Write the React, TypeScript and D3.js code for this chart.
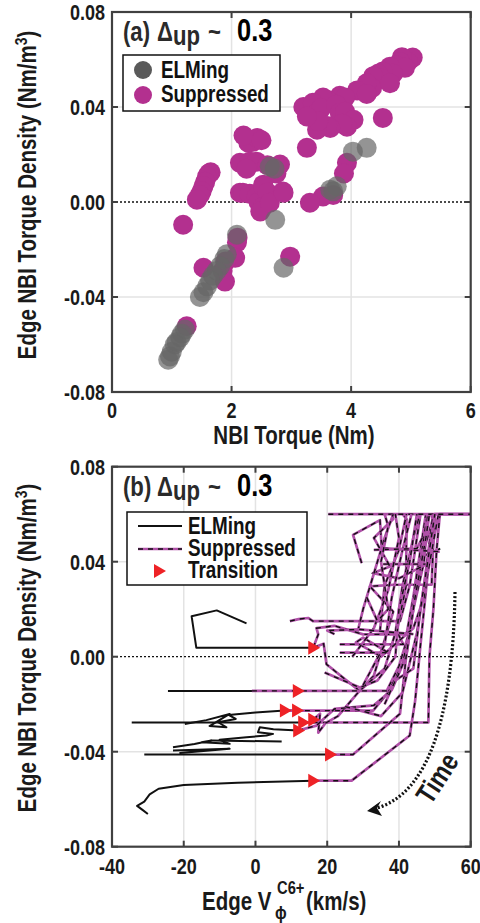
import React from 'react';
import * as d3 from 'd3';

const W = 480;
const H = 923;
const FONT = "'Liberation Sans', Arial, sans-serif";
const SX = 0.82; // condensed look

// ---------- Panel (a) data ----------
const aXTicks = [0, 2, 4, 6];
const aYTicks = [-0.08, -0.04, 0, 0.04, 0.08];
const aXGrid = [2, 4];
const aYGrid = [-0.04, 0.04];

const aSuppressed: [number, number][] = [
  [5.03, 0.0608], [4.95, 0.059], [4.85, 0.061], [4.82, 0.059], [4.75, 0.0575], [4.9, 0.0565],
  [4.65, 0.057], [4.7, 0.054], [4.53, 0.055], [4.45, 0.054], [4.5, 0.052], [4.37, 0.053],
  [4.35, 0.048], [4.26, 0.05], [4.65, 0.05], [4.1, 0.047], [4.26, 0.0455], [4.53, 0.0354],
  [3.81, 0.0447], [3.9, 0.044], [3.6, 0.043], [3.53, 0.044], [3.2, 0.04], [3.36, 0.0418],
  [3.43, 0.0375], [3.5, 0.0395], [3.75, 0.041], [3.81, 0.0375], [3.9, 0.038], [4.04, 0.0346],
  [3.93, 0.0317], [3.85, 0.033], [3.65, 0.0312], [3.6, 0.032], [3.43, 0.0304], [3.45, 0.034],
  [3.26, 0.036], [3.26, 0.0228],
  [2.36, 0.0254], [2.28, 0.025], [2.43, 0.027], [2.2, 0.028], [2.5, 0.026],
  [2.14, 0.0165], [2.3, 0.017], [2.42, 0.017], [2.25, 0.014], [2.6, 0.0155], [2.81, 0.0158], [2.75, 0.012],
  [2.14, 0.0039], [2.19, 0.0039], [2.3, 0.0035], [2.42, 0.0023], [2.45, 0.0], [2.53, 0.0073],
  [2.53, 0.0066], [2.6, 0.004], [2.53, -0.002], [2.48, -0.004], [2.64, -0.0003], [2.86, 0.0044],
  [2.87, 0.0039],
  [1.65, 0.0125], [1.62, 0.012], [1.59, 0.0107], [1.56, 0.0085], [1.53, 0.0066], [1.5, 0.0045],
  [1.47, 0.003], [1.42, 0.001],
  [3.93, 0.0165], [3.88, 0.012], [3.7, 0.003], [3.53, 0.0023], [3.31, -0.0003],
  [1.19, -0.0096],
  [2.1, -0.015], [2.09, -0.017], [2.06, -0.0235], [1.9, -0.025], [1.85, -0.029],
  [1.53, -0.0277], [1.89, -0.0335], [2.98, -0.023], [1.25, -0.0523],
];

const aElming: [number, number][] = [
  [4.03, 0.0212], [4.26, 0.0228], [2.64, 0.0149], [2.72, 0.014], [3.76, 0.0066], [3.65, 0.0052],
  [3.7, 0.0045], [2.73, -0.0075], [2.09, -0.0138], [1.92, -0.022], [1.88, -0.024], [1.81, -0.027],
  [1.75, -0.029], [1.69, -0.031], [1.64, -0.033], [1.59, -0.0355], [1.53, -0.038], [1.47, -0.04],
  [2.87, -0.0277], [1.22, -0.0537], [1.17, -0.0555], [1.14, -0.057], [1.08, -0.059], [1.05, -0.06],
  [1.0, -0.063], [0.97, -0.065], [0.94, -0.0664],
];

// ---------- Panel (b) data ----------
const bXTicks = [-40, -20, 0, 20, 40, 60];
const bYTicks = [-0.08, -0.04, 0, 0.04, 0.08];
const bXGrid = [-20, 0, 20, 40];
const bYGrid = [-0.04, 0.04];

const bElming: [number, number][][] = [
  [[-2.5, 0.014], [-10.8, 0.0195], [-17.8, 0.017], [-16.5, 0.0038], [16.1, 0.0038]],
  [[-24.4, -0.0144], [11.8, -0.0144]],
  [[-34.5, -0.0277], [13.3, -0.0277]],
  [[-19.7, -0.0283], [-13.7, -0.0267], [-7.2, -0.0241], [-12.8, -0.0292], [-8.1, -0.0297], [-10.4, -0.0276],
   [-5.5, -0.0262], [-7.5, -0.0245], [0, -0.0235], [8.2, -0.0227], [11.6, -0.0227]],
  [[-23, -0.0381], [-17, -0.0368], [-12.3, -0.0353], [-15, -0.036], [-7.2, -0.0367], [-10, -0.035],
   [-2.5, -0.0339], [3.1, -0.0332], [4.9, -0.0325], [0.7, -0.0318], [1.2, -0.0297], [5, -0.0305], [11.9, -0.0311]],
  [[-12.3, -0.0353], [7.3, -0.0357]],
  [[-23, -0.0395], [-7.2, -0.0388], [-21, -0.0405], [-12, -0.0392]],
  [[-31, -0.0412], [20.8, -0.0412]],
  [[-30, -0.0662], [-31.5, -0.0645], [-33, -0.0628], [-31, -0.061], [-29.5, -0.058], [-27, -0.0556],
   [-20, -0.054], [-5, -0.0531], [16.1, -0.0522]],
  [[47, 0.0425], [51.5, 0.0455]],
];

const bSuppressed: [number, number][][] = [
  [[16.1, 0.0038], [17.5, 0.0094], [17, 0.012], [22, 0.013], [30, 0.0094], [42.1, 0.0094], [44, 0.025], [46, 0.045], [47.5, 0.06]],
  [[16.1, 0.0038], [19, 0.0055], [19.8, -0.0032], [29, -0.0144], [33, -0.008], [38.4, 0.019], [31.9, 0.0296], [38.4, 0.0303], [49.1, 0.0303], [49.5, 0.045], [50, 0.06], [60, 0.06]],
  [[9.6, 0.015], [12, 0.0158], [14.7, 0.0163], [16, 0.015], [40.3, 0.015], [43, 0.03], [45.8, 0.058], [46, 0.06]],
  [[23.5, 0.0052], [41.2, 0.0052], [39.4, 0.0107], [42, 0.03], [42.1, 0.058], [41, 0.06]],
  [[-1, -0.0144], [36.6, -0.0144], [40, -0.004], [43, 0.011], [45, 0.03], [47.7, 0.058], [48, 0.06]],
  [[8.2, -0.0227], [32.8, -0.0227], [37, -0.015], [41, -0.003], [43, 0.0107], [45, 0.035], [49.5, 0.058], [49, 0.06]],
  [[13.3, -0.0277], [48.2, -0.0277], [48.5, 0.0], [49.6, 0.02], [50.5, 0.045], [51.4, 0.06], [60, 0.06]],
  [[16.1, -0.0265], [18, -0.024], [17.5, -0.032], [19.5, -0.028], [23, -0.025], [29, -0.0144], [36, -0.005], [39, 0.01], [41, 0.03], [44, 0.05], [45.8, 0.06]],
  [[11.9, -0.0311], [17, -0.029], [22, -0.022], [33, -0.0205], [38, -0.014], [42, 0.0], [44, 0.02], [47, 0.04], [48, 0.06]],
  [[20.8, -0.0412], [27.2, -0.0412], [40.3, -0.024], [42, 0.0], [44.5, 0.025], [47.5, 0.05], [48.5, 0.06]],
  [[16.1, -0.0522], [26.8, -0.0522], [43, -0.0332], [44.5, -0.0187], [46, 0.005], [48, 0.035], [51, 0.06]],
  [[20.3, 0.06], [60, 0.06]],
  [[29.6, 0.0394], [27.2, 0.0513], [34.7, 0.0575], [35.2, 0.0457], [51.4, 0.0442]],
  [[35.6, 0.039], [47.7, 0.039], [40, 0.033], [32.8, 0.0352], [37.5, 0.038], [33, 0.05], [38.4, 0.058], [38, 0.06]],
  [[28.5, 0.0107], [30, 0.02], [33, 0.035], [36, 0.05], [38.4, 0.06]],
  [[34.7, 0.0107], [36, 0.03], [40, 0.045], [42.1, 0.06]],
  [[19.3, -0.0067], [29.1, -0.013], [34, -0.01], [39, 0.0], [40, 0.02], [43, 0.04], [45, 0.06]],
  [[23.5, 0.0017], [37, 0.0017], [30, 0.008], [28, 0.006], [35, 0.0], [44, 0.012], [47, 0.025], [48, 0.04], [50, 0.06]],
  [[25, -0.021], [35, -0.025], [41, -0.015], [45, 0.01], [47, 0.03], [49.5, 0.06]],
  [[30, -0.012], [36, 0.005], [38, 0.025], [41, 0.045], [43.5, 0.06]],
  [[27, 0.0], [33, 0.012], [37, 0.028], [40, 0.05], [39, 0.06]],
  [[22, 0.0095], [20, 0.011], [29, 0.0115], [44, 0.0095]],
  [[33, 0.045], [45, 0.0455], [46.5, 0.05]],
  [[36, -0.02], [39, -0.01], [44, -0.005], [46, 0.02], [48.5, 0.045], [50, 0.06]],
  [[31, 0.025], [34, 0.015], [37, 0.02], [35, 0.04], [37, 0.055], [36, 0.06]],
];

const bTransitions: [number, number][] = [
  [16.1, 0.0038], [11.8, -0.0144], [8.2, -0.0227], [11.6, -0.0227], [13.3, -0.0277],
  [16.1, -0.0265], [11.9, -0.0311], [20.8, -0.0412], [16.1, -0.0522],
];

// ---------- styles ----------
const MAGENTA = '#B3308F';
const GRAY = '#666666';
const SUPP_LINE = '#B050A8';
const RED = '#EE2226';
const AXIS = '#404040';
const GRID = '#e3e3e3';

const fmtY = (v: number) => v.toFixed(2);

// condensed bold text
function CT({ x, y, size, anchor = 'start', rot = 0, fill = '#1a1a1a', children, baseline }: any) {
  return (
    <text
      transform={`translate(${x},${y}) rotate(${rot}) scale(${SX},1)`}
      textAnchor={anchor}
      dominantBaseline={baseline}
      fontFamily={FONT}
      fontWeight="bold"
      fontSize={size}
      fill={fill}
    >
      {children}
    </text>
  );
}

function Frame({ x, y, xTicks, yTicks, xLabelY }: any) {
  const [x0, x1] = x.range();
  const [y0, y1] = y.range();
  const tl = 6;
  return (
    <g>
      {xTicks.map((t: number) => (
        <g key={'xt' + t}>
          <line x1={x(t)} x2={x(t)} y1={y0} y2={y0 - tl} stroke={AXIS} strokeWidth={2} />
          <line x1={x(t)} x2={x(t)} y1={y1} y2={y1 + tl} stroke={AXIS} strokeWidth={2} />
          <CT x={x(t)} y={xLabelY} size={22} anchor="middle">{String(t)}</CT>
        </g>
      ))}
      {yTicks.map((t: number) => (
        <g key={'yt' + t}>
          <line x1={x0} x2={x0 + tl} y1={y(t)} y2={y(t)} stroke={AXIS} strokeWidth={2} />
          <line x1={x1} x2={x1 - tl} y1={y(t)} y2={y(t)} stroke={AXIS} strokeWidth={2} />
          <CT x={x0 - 7} y={y(t) + 8} size={22} anchor="end">{fmtY(t)}</CT>
        </g>
      ))}
      <rect x={x0} y={y1} width={x1 - x0} height={y0 - y1} fill="none" stroke={AXIS} strokeWidth={2.2} />
    </g>
  );
}

function Grid({ x, y, xGrid, yGrid }: any) {
  const [x0, x1] = x.range();
  const [y0, y1] = y.range();
  return (
    <g>
      {xGrid.map((t: number) => (
        <line key={'gx' + t} x1={x(t)} x2={x(t)} y1={y0} y2={y1} stroke={GRID} strokeWidth={1.5} />
      ))}
      {yGrid.map((t: number) => (
        <line key={'gy' + t} x1={x0} x2={x1} y1={y(t)} y2={y(t)} stroke={GRID} strokeWidth={1.5} />
      ))}
      <line x1={x0} x2={x1} y1={y(0)} y2={y(0)} stroke="#111" strokeWidth={1.3} strokeDasharray="2,2" />
    </g>
  );
}

function Title({ letter, y }: { letter: string; y: number }) {
  return (
    <g>
      <CT x={123} y={y} size={27} fill="#2a2a2a">{`(${letter})`}</CT>
      <CT x={157} y={y} size={27} fill="#2a2a2a">Δ</CT>
      <CT x={173} y={y + 4} size={27} fill="#2a2a2a">up</CT>
      <CT x={208} y={y} size={27} fill="#2a2a2a">~</CT>
      <CT x={237} y={y} size={31} fill="#000">0.3</CT>
    </g>
  );
}

function YLabel({ cy }: { cy: number }) {
  return (
    <CT x={36} y={cy} rot={-90} size={25} anchor="middle">
      Edge NBI Torque Density (Nm/m<tspan dy={-9} fontSize={17}>3</tspan><tspan dy={9}>)</tspan>
    </CT>
  );
}

function tri(cx: number, cy: number) {
  return `M${cx - 5},${cy - 7} L${cx + 7},${cy} L${cx - 5},${cy + 7} Z`;
}

export default function App() {
  const xa = d3.scaleLinear().domain([0, 6]).range([112, 470.7]);
  const ya = d3.scaleLinear().domain([-0.08, 0.08]).range([392, 12]);
  const xb = d3.scaleLinear().domain([-40, 60]).range([112, 470.7]);
  const yb = d3.scaleLinear().domain([-0.08, 0.08]).range([846.7, 466.7]);

  const lineB = d3.line<[number, number]>().x((d) => xb(d[0])).y((d) => yb(d[1]));

  const arrowPath = 'M455,592 Q452,786 377,808';

  return (
    <svg width={W} height={H} style={{ position: 'absolute', left: 0, top: 0, background: '#fff' }}>
      <rect width={W} height={H} fill="#fff" />
      {/* ---------- Panel (a) ---------- */}
      <Grid x={xa} y={ya} xGrid={aXGrid} yGrid={aYGrid} />
      <g>
        {aSuppressed.map((d, i) => (
          <circle key={'s' + i} cx={xa(d[0])} cy={ya(d[1])} r={10} fill={MAGENTA} />
        ))}
        {aElming.map((d, i) => (
          <circle key={'e' + i} cx={xa(d[0])} cy={ya(d[1])} r={10} fill={GRAY} fillOpacity={0.7} />
        ))}
      </g>
      <Frame x={xa} y={ya} xTicks={aXTicks} yTicks={aYTicks} xLabelY={418} />
      <Title letter="a" y={41} />
      <g>
        <rect x={123} y={55} width={157} height={56} fill="#fff" stroke="#111" strokeWidth={1.5} />
        <circle cx={143} cy={70} r={9} fill="#5a5a5a" />
        <circle cx={143} cy={95} r={9} fill={MAGENTA} />
        <CT x={161} y={78} size={23} fill="#111">ELMing</CT>
        <CT x={161} y={102} size={23} fill="#111">Suppressed</CT>
      </g>
      <YLabel cy={195} />
      <CT x={294} y={444} size={25} anchor="middle">NBI Torque (Nm)</CT>

      {/* ---------- Panel (b) ---------- */}
      <Grid x={xb} y={yb} xGrid={bXGrid} yGrid={bYGrid} />
      <g fill="none">
        {bElming.map((p, i) => (
          <path key={'be' + i} d={lineB(p) || ''} stroke="#111" strokeWidth={2} strokeLinejoin="round" />
        ))}
        {bSuppressed.map((p, i) => (
          <g key={'bs' + i}>
            <path d={lineB(p) || ''} stroke={SUPP_LINE} strokeWidth={2.7} strokeLinejoin="round" />
            <path d={lineB(p) || ''} stroke="#111" strokeWidth={1.4} strokeDasharray="5,5" />
          </g>
        ))}
      </g>
      {bTransitions.map((d, i) => (
        <path key={'tr' + i} d={tri(xb(d[0]), yb(d[1]))} fill={RED} />
      ))}
      <Frame x={xb} y={yb} xTicks={bXTicks} yTicks={bYTicks} xLabelY={874} />
      <Title letter="b" y={496} />
      <g>
        <rect x={127} y={512} width={180} height={73} fill="#fff" stroke="#111" strokeWidth={1.5} />
        <line x1={138} x2={182} y1={526} y2={526} stroke="#111" strokeWidth={2} />
        <line x1={138} x2={182} y1={549} y2={549} stroke={SUPP_LINE} strokeWidth={2.7} />
        <line x1={138} x2={182} y1={549} y2={549} stroke="#111" strokeWidth={1.4} strokeDasharray="5,5" />
        <path d={tri(159, 571)} fill={RED} />
        <CT x={188} y={534} size={23} fill="#111">ELMing</CT>
        <CT x={188} y={556} size={23} fill="#111">Suppressed</CT>
        <CT x={188} y={578} size={23} fill="#111">Transition</CT>
      </g>
      <YLabel cy={648} />
      <CT x={202} y={910} size={25}>Edge V</CT>
      <CT x={275} y={919} size={19}>ϕ</CT>
      <CT x={277} y={894} size={18}>C6+</CT>
      <CT x={306} y={910} size={25}>(km/s)</CT>
      {/* Time annotation */}
      <path d={arrowPath} fill="none" stroke="#111" strokeWidth={3.2} strokeDasharray="2,2" />
      <path d="M367,811 L381,801 L377,808 L382,816 Z" fill="#111" />
      <CT x={437} y={778} rot={-57} size={28} anchor="middle" baseline="central">Time</CT>
    </svg>
  );
}
